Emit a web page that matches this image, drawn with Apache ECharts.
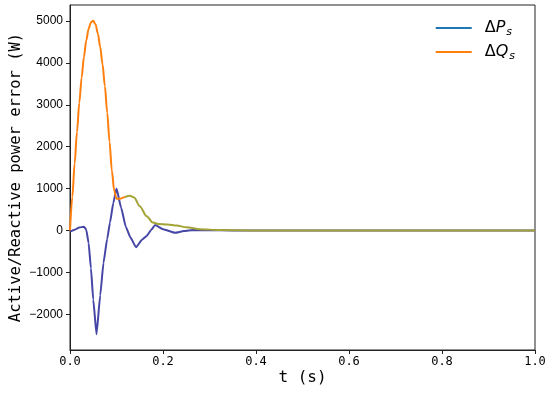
<!DOCTYPE html>
<html>
<head>
<meta charset="utf-8">
<script src="https://cdn.jsdelivr.net/npm/echarts@6/dist/echarts.min.js"></script>
<style>html,body{margin:0;padding:0;background:#fff;}#c{width:550px;height:395px;}</style>
</head>
<body>
<div id="c"></div>
<script>
const tP = [0, 0.01, 0.02, 0.03, 0.035, 0.04, 0.045, 0.05, 0.057, 0.065, 0.072, 0.08, 0.086, 0.093, 0.1, 0.11, 0.12, 0.13, 0.142, 0.155, 0.165, 0.175, 0.183, 0.2, 0.226, 0.245, 0.265, 0.3, 0.35, 0.4, 0.5, 1.0];
const pValues = [-30, 20, 70, 90, 20, -300, -900, -1650, -2480, -1550, -770, -200, 190, 650, 1000, 540, 90, -170, -400, -220, -130, 20, 130, 30, -55, -15, 10, 5, 0, 0, 0, 0];
const tQ = [0, 0.005, 0.01, 0.015, 0.02, 0.025, 0.03, 0.035, 0.04, 0.045, 0.05, 0.055, 0.06, 0.065, 0.07, 0.075, 0.08, 0.085, 0.09, 0.095, 0.1, 0.108, 0.118, 0.129, 0.138, 0.15, 0.165, 0.178, 0.19, 0.21, 0.229, 0.25, 0.28, 0.32, 0.4, 0.5, 1.0];
const qValues = [0, 800, 1600, 2350, 3050, 3650, 4150, 4540, 4820, 4970, 5010, 4920, 4700, 4380, 3970, 3450, 2820, 2120, 1430, 950, 760, 760, 800, 830, 790, 580, 340, 190, 155, 145, 120, 75, 30, 10, 0, 0, 0];
const xTicks = [0, 0.2, 0.4, 0.6, 0.8, 1.0];
const yTicks = [-2000, -1000, 0, 1000, 2000, 3000, 4000, 5000];
const seriesNames = ['P', 'Q'];

const chart = echarts.init(document.getElementById('c'));
const mono = 'DejaVu Sans Mono';
const legendRich = {
  a: {fontFamily: 'DejaVu Sans', fontSize: 16, color: '#000', padding: [0, 0, 0, 8]},
  b: {fontFamily: 'DejaVu Sans', fontSize: 16, fontStyle: 'italic', color: '#000'},
  c: {fontFamily: 'DejaVu Sans', fontSize: 11, fontStyle: 'italic', color: '#000', padding: [9, 0, 0, 1]}
};
const qPairs = tQ.map((t, i) => [t, qValues[i]]);
const splitT = 0.118;
chart.setOption({
  animation: false,
  grid: {left: 70, right: 15, top: 5, bottom: 45, show: true, borderColor: '#222', borderWidth: 1, outerBoundsMode: 'none', containLabel: false},
  legend: {
    orient: 'vertical', right: 30, top: 15, itemGap: 6,
    itemWidth: 36, itemHeight: 2, icon: 'rect',
    data: [
      {name: 'P', itemStyle: {color: '#1f77b4'}},
      {name: 'Q', itemStyle: {color: '#ff7f0e'}}
    ],
    formatter: n => '{a|Δ}{b|' + n + '}{c|s}',
    textStyle: {rich: legendRich}
  },
  xAxis: {
    type: 'value', min: 0, max: 1, interval: 0.2,
    name: 't (s)', nameLocation: 'middle', nameGap: 20, nameMoveOverlap: false,
    nameTextStyle: {fontFamily: mono, fontSize: 16, color: '#000'},
    axisLine: {show: true, onZero: false, lineStyle: {color: '#222', width: 1}},
    axisTick: {show: true, length: 4, lineStyle: {color: '#222'}},
    axisLabel: {fontFamily: mono, fontSize: 12, color: '#000', margin: 6, formatter: v => v.toFixed(1)},
    splitLine: {show: false}
  },
  yAxis: {
    type: 'value', min: -2855, max: 5385,
    name: 'Active/Reactive power error (W)', nameLocation: 'middle', nameGap: 46, nameMoveOverlap: false,
    nameTextStyle: {fontFamily: mono, fontSize: 15.5, color: '#000'},
    axisLine: {show: true, onZero: false, lineStyle: {color: '#222', width: 1}},
    axisTick: {show: true, length: 4, customValues: yTicks, lineStyle: {color: '#222'}},
    axisLabel: {fontFamily: 'Liberation Sans', fontSize: 12, color: '#000', margin: 7, customValues: yTicks,
      formatter: v => (v < 0 ? '\u2212' + Math.abs(v) : String(v))},
    splitLine: {show: false}
  },
  series: [
    {name: seriesNames[0], type: 'line', showSymbol: false, smooth: 0.15, smoothMonotone: 'x',
     data: tP.map((t, i) => [t, pValues[i]]),
     itemStyle: {color: '#1f77b4'},
     lineStyle: {color: '#4646a6', width: 2}},
    {name: seriesNames[1], type: 'line', showSymbol: false, smooth: 0.3, smoothMonotone: 'x',
     data: qPairs.filter(p => p[0] <= splitT),
     itemStyle: {color: '#ff7f0e'},
     lineStyle: {width: 2}},
    {name: seriesNames[1] + '_tail', type: 'line', showSymbol: false, smooth: 0.3, smoothMonotone: 'x',
     data: qPairs.filter(p => p[0] >= splitT),
     itemStyle: {color: '#a3a336'},
     lineStyle: {width: 2}}
  ]
});
</script>
</body>
</html>
